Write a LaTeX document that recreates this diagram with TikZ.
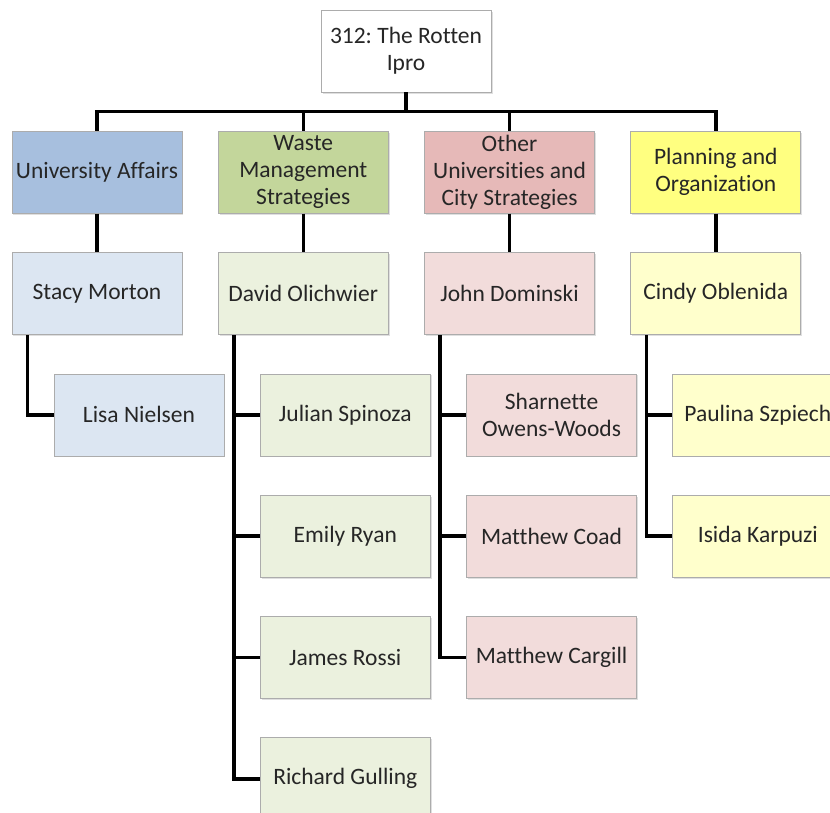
\documentclass[tikz,border=0pt]{standalone}
\usepackage{fontspec}
\setmainfont{Carlito}[Ligatures=NoCommon]
\usetikzlibrary{positioning, shadows}
\definecolor{bluehi}{RGB}{167,191,222}
\definecolor{greenhi}{RGB}{195,214,155}
\definecolor{redhi}{RGB}{230,185,184}
\definecolor{yellowhi}{RGB}{255,255,128}
\definecolor{bluelo}{RGB}{220,230,242}
\definecolor{greenlo}{RGB}{235,241,222}
\definecolor{redlo}{RGB}{242,220,219}
\definecolor{yellowlo}{RGB}{255,255,204}
\tikzset{
    boxnode/.style={rectangle, draw=gray!65, fill=white, line width=0.8pt, minimum width=170pt, minimum height=82pt, inner sep=2pt, align=center, text=black!85, font=\fontsize{23.5}{27}\selectfont\frenchspacing, drop shadow={opacity=0.25, shadow xshift=1.5pt, shadow yshift=-1.5pt}},
    bluehead/.style={boxnode, fill=bluehi},
    greenhead/.style={boxnode, fill=greenhi},
    redhead/.style={boxnode, fill=redhi},
    yellowhead/.style={boxnode, fill=yellowhi},
    bluenode/.style={boxnode, fill=bluelo},
    greennode/.style={boxnode, fill=greenlo},
    rednode/.style={boxnode, fill=redlo},
    yellownode/.style={boxnode, fill=yellowlo},
    myline/.style={line width=3.5pt, black}
}
\begin{document}
\begin{tikzpicture}[x=1pt, y=1pt, node distance=38.5pt and 35.5pt]
        \path[use as bounding box, clip] (0,0) rectangle (830,-812);

        % ------------------
        % nodes
        % ------------------

        \node[boxnode] (ipro) at (406,-51) {312: The Rotten\\Ipro};

        \node[greenhead, below=of ipro, xshift=-102.75pt] (waste) {Waste\\Management\\Strategies};
        \node[bluehead, left=of waste] (affairs) {University Affairs};
        \node[redhead, right=of waste] (other) {Other\\Universities and\\City Strategies};
        \node[yellowhead, right=of other] (planning) {Planning and\\Organization};

        \node[bluenode, below=of affairs] (stacy) {Stacy Morton};
        \node[greennode, below=of waste] (david) {David Olichwier};
        \node[rednode, below=of other] (john) {John Dominski};
        \node[yellownode, below=of planning] (cindy) {Cindy Oblenida};

        \node[bluenode, below=of stacy, xshift=42pt] (lisa) {Lisa Nielsen};

        \node[greennode, below=of david, xshift=42pt] (julian) {Julian Spinoza};
        \node[greennode, below=of julian] (emily) {Emily Ryan};
        \node[greennode, below=of emily] (james) {James Rossi};
        \node[greennode, below=of james] (richard) {Richard Gulling};

        \node[rednode, below=of john, xshift=42pt] (sharnette) {Sharnette\\Owens-Woods};
        \node[rednode, below=of sharnette] (coad) {Matthew Coad};
        \node[rednode, below=of coad] (cargill) {Matthew Cargill};

        \node[yellownode, below=of cindy, xshift=42pt] (paulina) {Paulina Szpiech};
        \node[yellownode, below=of paulina] (isida) {Isida Karpuzi};

        % ------------------
        % lines
        % ------------------

        \coordinate (bar) at ([yshift=-19pt]ipro.south);
        \draw[myline] (ipro.south) -- (bar);
        \draw[myline] (bar) -| (affairs.north);
        \draw[myline] (bar) -| (waste.north);
        \draw[myline] (bar) -| (other.north);
        \draw[myline] (bar) -| (planning.north);

        \draw[myline] (affairs) -- (stacy);
        \draw[myline] (waste) -- (david);
        \draw[myline] (other) -- (john);
        \draw[myline] (planning) -- (cindy);

        \draw[myline] ([xshift=16pt]stacy.south west) |- (lisa.west);

        \draw[myline] ([xshift=16pt]david.south west) |- (richard.west);
        \draw[myline] ([xshift=16pt]david.south west) |- (julian.west);
        \draw[myline] ([xshift=16pt]david.south west) |- (emily.west);
        \draw[myline] ([xshift=16pt]david.south west) |- (james.west);

        \draw[myline] ([xshift=16pt]john.south west) |- (cargill.west);
        \draw[myline] ([xshift=16pt]john.south west) |- (sharnette.west);
        \draw[myline] ([xshift=16pt]john.south west) |- (coad.west);

        \draw[myline] ([xshift=16pt]cindy.south west) |- (isida.west);
        \draw[myline] ([xshift=16pt]cindy.south west) |- (paulina.west);

    \end{tikzpicture}
\end{document}
